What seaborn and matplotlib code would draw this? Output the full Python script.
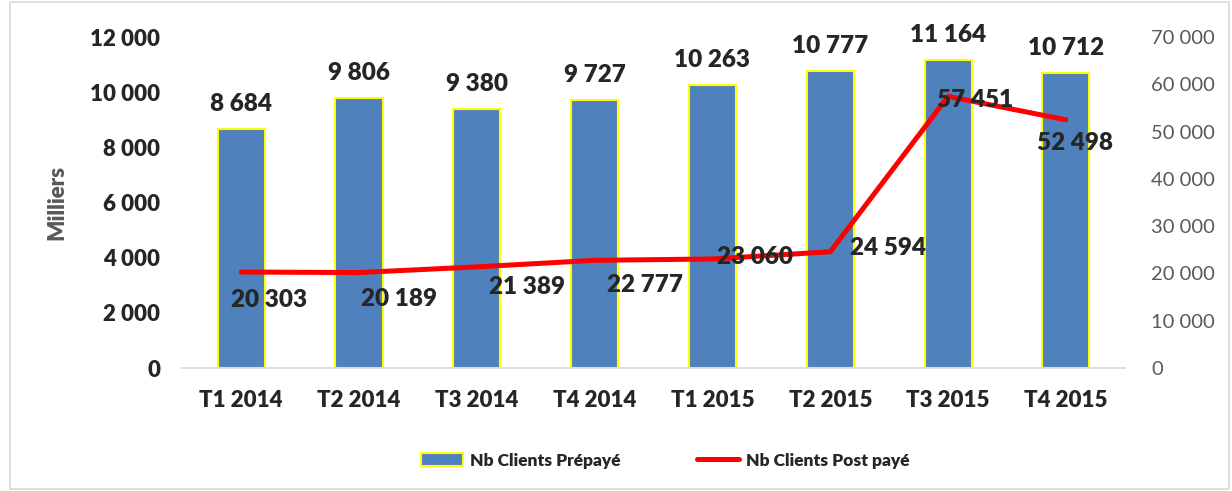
import numpy as np
import seaborn as sns
import matplotlib.pyplot as plt
from matplotlib.patches import Patch, Rectangle
from matplotlib.lines import Line2D
from matplotlib.ticker import FuncFormatter

# Données
TRIMESTRES = ["T1 2014", "T2 2014", "T3 2014", "T4 2014",
              "T1 2015", "T2 2015", "T3 2015", "T4 2015"]
PREPAYE = [8684, 9806, 9380, 9727, 10263, 10777, 11164, 10712]
POST_PAYE = [20303, 20189, 21389, 22777, 23060, 24594, 57451, 52498]

# décalages des étiquettes de la courbe (pixels)
DECALAGES = [(28, -28), (40, -26), (50, -20), (50, -25),
             (43, 2), (58, 4), (27, -4), (9, -23)]

sns.set_theme(style="white")
plt.rcParams["font.family"] = ["Lato", "DejaVu Sans"]

BLEU = "#4F81BD"
ROUGE = "#FF0000"
GRIS = "#595959"


def milliers(v, pos=None):
    return f"{int(v):,}".replace(",", " ")


fig = plt.figure(figsize=(12.32, 4.91), dpi=100)
ax = fig.add_axes([0.148, 0.2505, 0.765, 0.674])

x = np.arange(len(TRIMESTRES))
sns.barplot(x=TRIMESTRES, y=PREPAYE, color=BLEU, saturation=1, width=0.4,
            edgecolor="#FFFF00", linewidth=1.5, ax=ax)
ax.set_xlim(-0.5, len(TRIMESTRES) - 0.5)
ax.set_ylim(0, 12000)
ax.yaxis.set_major_formatter(FuncFormatter(milliers))
ax.tick_params(axis="y", length=0, labelsize=16, pad=16)
ax.tick_params(axis="x", length=0, labelsize=16, pad=16)
for lab in ax.get_xticklabels() + ax.get_yticklabels():
    lab.set_fontweight("heavy")
ax.set_ylabel("Milliers", fontsize=16, fontweight="heavy", color=GRIS, labelpad=16)
for s in ["top", "left", "right"]:
    ax.spines[s].set_visible(False)
ax.spines["bottom"].set_color("#D9D9D9")

for xi, v in zip(x, PREPAYE):
    ax.annotate(milliers(v), (xi, v), xytext=(0, 14), textcoords="offset pixels",
                ha="center", va="bottom", fontsize=17.5, fontweight="heavy")

ax2 = ax.twinx()
sns.lineplot(x=x, y=POST_PAYE, color=ROUGE, linewidth=3.6, sort=False, ax=ax2)
ax2.set_ylim(0, 70000)
ax2.set_yticks(np.arange(0, 70001, 10000))
ax2.yaxis.set_major_formatter(FuncFormatter(milliers))
ax2.tick_params(axis="y", length=0, labelsize=14.5, labelcolor=GRIS, pad=19)
for s in ["top", "left", "right", "bottom"]:
    ax2.spines[s].set_visible(False)

for xi, v, (dx, dy) in zip(x, POST_PAYE, DECALAGES):
    ax2.annotate(milliers(v), (xi, v), xytext=(dx, dy), textcoords="offset pixels",
                 ha="center", va="center", fontsize=17.5, fontweight="heavy")

poignees = [Patch(facecolor=BLEU, edgecolor="#FFFF00", linewidth=1.5),
            Line2D([0], [0], color=ROUGE, linewidth=3.6)]
fig.legend(poignees, ["Nb Clients Prépayé", "Nb Clients Post payé"],
           loc="center", bbox_to_anchor=(0.54, 0.062), ncol=2, frameon=False,
           prop={"weight": "heavy", "size": 12.5}, columnspacing=4.4,
           handlelength=2.4, handletextpad=0.4)

fig.patches.append(Rectangle((10 / 1232, 0.004), 1219 / 1232, 0.992,
                             transform=fig.transFigure, fill=False,
                             edgecolor="#D9D9D9", linewidth=1.2))

fig.savefig("out.png", dpi=100)
